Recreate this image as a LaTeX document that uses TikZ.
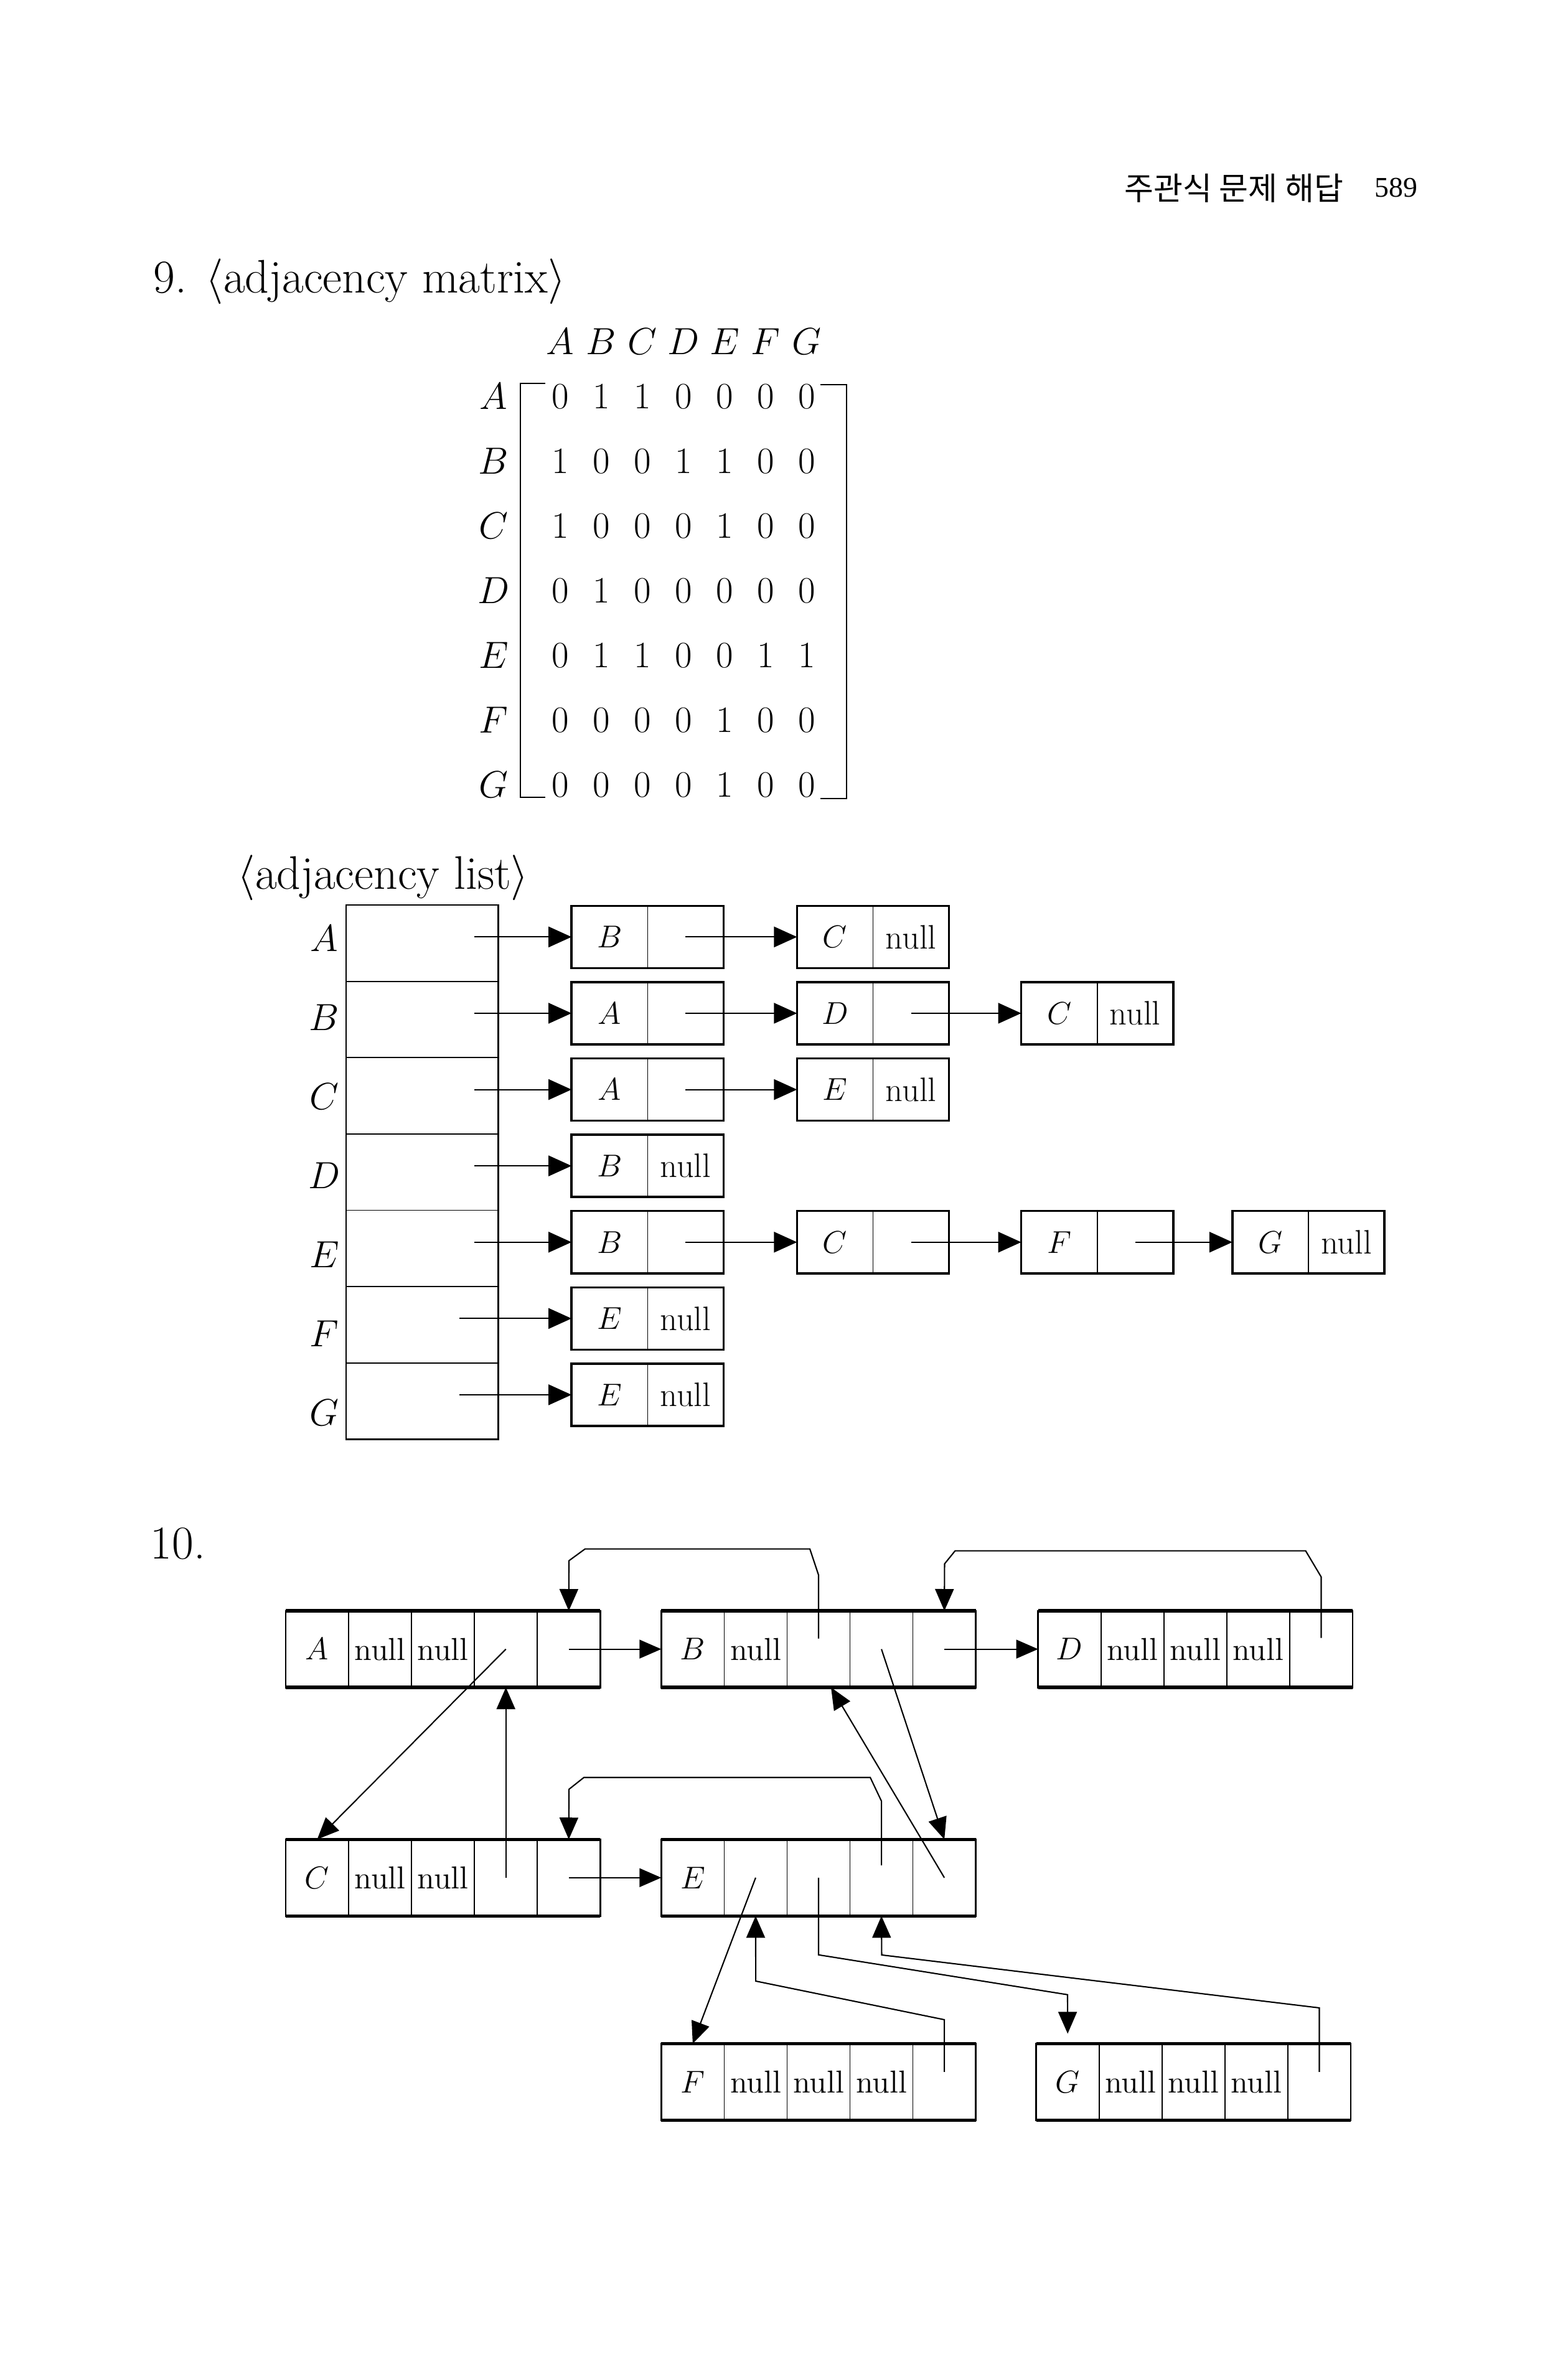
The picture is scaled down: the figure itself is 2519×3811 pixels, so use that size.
\documentclass[tikz,border=0pt]{standalone}
\usepackage{fontspec}
\newfontfamily\korfont{Noto Sans CJK KR}
\newfontfamily\numfont{Liberation Serif}
\usetikzlibrary{arrows.meta,positioning}

\tikzset{
  qtitle/.style={inner sep=0pt, anchor=west, font=\fontsize{21.5}{25}\selectfont},
  lab/.style={inner sep=0pt, font=\fontsize{16.5}{19}\selectfont},
  biglab/.style={inner sep=0pt, font=\fontsize{18}{21}\selectfont},
  dig/.style={inner sep=0pt, font=\fontsize{17}{20}\selectfont},
  brk/.style={line width=0.55pt},
  slot/.style={draw, line width=0.5pt, anchor=north west, minimum width=2.44cm, minimum height=1.226cm, inner sep=0pt, outer sep=0pt},
  tframe/.style={line width=0.8pt},
  lcell/.style={draw, line width=0.45pt, minimum width=1.22cm, minimum height=1cm, inner sep=0pt, outer sep=0pt, font=\fontsize{15.5}{18}\selectfont},
  lframe/.style={line width=1pt},
  lptr/.style={line width=0.6pt, -{Triangle[length=0.37cm,width=0.33cm]}},
  mcell/.style={draw, line width=0.45pt, minimum width=1.01cm, minimum height=1.23cm, inner sep=0pt, outer sep=0pt, font=\fontsize{14.5}{17}\selectfont},
  mframe/.style={line width=0.8pt},
  mtb/.style={line width=1.5pt},
  ptr/.style={line width=0.6pt, -{Triangle[length=0.35cm,width=0.3cm]}}
}

\newcommand\AdjRec[4]{%
  \node[lcell,#2] (#1a) {#3};
  \node[lcell,right=0pt of #1a] (#1b) {#4};
  \draw[lframe] (#1a.north west) rectangle (#1b.south east);}

\newcommand\MultiRec[7]{%
  \node[mcell,#2] (#11) {#3};
  \node[mcell,right=0pt of #11] (#12) {#4};
  \node[mcell,right=0pt of #12] (#13) {#5};
  \node[mcell,right=0pt of #13] (#14) {#6};
  \node[mcell,right=0pt of #14] (#15) {#7};
  \draw[mframe] (#11.north west) rectangle (#15.south east);
  \draw[mtb] (#11.north west) -- (#15.north east) (#11.south west) -- (#15.south east);}

\begin{document}
\begin{tikzpicture}[x=0.01cm,y=-0.01cm]
\useasboundingbox (0,0) rectangle (2519,3811);

\node[anchor=west, inner sep=0pt, font=\korfont\fontsize{14.5}{17}\selectfont] (head) at (1806,302) {주관식 문제 해답};
\node[anchor=west, inner sep=0pt, font=\numfont\fontsize{13}{16}\selectfont] (page) at (2208,302) {589};

\node[qtitle] (q9) at (246,452) {9. $\langle$adjacency matrix$\rangle$};
\foreach \cl [count=\j] in {A,...,G}
  \node[lab] (h\cl) at ({900+66*(\j-1)},549) {$\cl$};
\foreach \rw/\bits [count=\i] in {A/{0,1,1,0,0,0,0},B/{1,0,0,1,1,0,0},C/{1,0,0,0,1,0,0},D/{0,1,0,0,0,0,0},E/{0,1,1,0,0,1,1},F/{0,0,0,0,1,0,0},G/{0,0,0,0,1,0,0}} {
  \node[lab] (r\rw) at (793,{637+104*(\i-1)}) {$\rw$};
  \foreach \b [count=\j] in \bits
    \node[dig] (e\rw\j) at ({900+66*(\j-1)},{637+104*(\i-1)}) {\b};
}
\draw[brk] (876,616) -- (836,616) -- (836,1281) -- (876,1281);
\draw[brk] (1318,618) -- (1360,618) -- (1360,1283) -- (1318,1283);

\node[qtitle] (q9b) at (381,1410) {$\langle$adjacency list$\rangle$};
\foreach \rw [count=\i] in {A,...,G} {
  \node[slot] (t\rw) at (556,{1454+122.6*(\i-1)}) {};
  \node[biglab] (v\rw) at (521,{1508+127*(\i-1)}) {$\rw$};
}
\draw[tframe] (tA.north west) rectangle (tG.south east);

\AdjRec{lA1}{right=1.18cm of tA, yshift=0.1cm}{$B$}{}
\AdjRec{lA2}{right=1.18cm of lA1b}{$C$}{null}
\AdjRec{lB1}{right=1.18cm of tB, yshift=0.1cm}{$A$}{}
\AdjRec{lB2}{right=1.18cm of lB1b}{$D$}{}
\AdjRec{lB3}{right=1.16cm of lB2b}{$C$}{null}
\AdjRec{lC1}{right=1.18cm of tC, yshift=0.1cm}{$A$}{}
\AdjRec{lC2}{right=1.18cm of lC1b}{$E$}{null}
\AdjRec{lD1}{right=1.18cm of tD, yshift=0.1cm}{$B$}{null}
\AdjRec{lE1}{right=1.18cm of tE, yshift=0.1cm}{$B$}{}
\AdjRec{lE2}{right=1.18cm of lE1b}{$C$}{}
\AdjRec{lE3}{right=1.16cm of lE2b}{$F$}{}
\AdjRec{lE4}{right=0.95cm of lE3b}{$G$}{null}
\AdjRec{lF1}{right=1.18cm of tF, yshift=0.1cm}{$E$}{null}
\AdjRec{lG1}{right=1.18cm of tG, yshift=0.1cm}{$E$}{null}

\foreach \rw/\d in {A/1.56,B/1.56,C/1.56,D/1.56,E/1.56,F/1.80,G/1.80}
  \draw[lptr] ([xshift=-\d cm]l\rw1a.west) -- (l\rw1a.west);
\path[lptr]
  (lA1b.center) edge (lA2a.west)
  (lB1b.center) edge (lB2a.west)
  (lB2b.center) edge (lB3a.west)
  (lC1b.center) edge (lC2a.west)
  (lE1b.center) edge (lE2a.west)
  (lE2b.center) edge (lE3a.west)
  (lE3b.center) edge (lE4a.west);

\node[qtitle] (q10) at (241,2480) {10.};
\MultiRec{mA}{anchor=north west, at={(459,2588)}}{$A$}{null}{null}{}{}
\MultiRec{mB}{right=0.98cm of mA5}{$B$}{null}{}{}{}
\MultiRec{mD}{right=1cm of mB5}{$D$}{null}{null}{null}{}
\MultiRec{mC}{below=2.44cm of mA1}{$C$}{null}{null}{}{}
\MultiRec{mE}{right=0.98cm of mC5}{$E$}{}{}{}{}
\MultiRec{mF}{below=2.05cm of mE1}{$F$}{null}{null}{null}{}
\MultiRec{mG}{right=0.97cm of mF5}{$G$}{null}{null}{null}{}

\path[ptr]
  (mA5.center) edge (mB1.west)
  (mB5.center) edge (mD1.west)
  (mC5.center) edge (mE1.west)
  (mA4.center) edge (mC1.north)
  (mC4.center) edge (mA4.south)
  (mB4.center) edge (mE5.north)
  (mE5.center) edge ([xshift=0.2cm]mB3.south)
  (mE2.center) edge (mF1.north);
\draw[ptr] ([yshift=0.17cm]mB3.center) -- ++(0,-102) -- ++(-14,-42) -- ++(-361,0) -- ++(-26,19) -- (mA5.north);
\draw[ptr] ([yshift=0.18cm]mD5.center) -- ++(0,-98) -- ++(-25,-42) -- ++(-563,0) -- ++(-17,21) -- (mB5.north);
\draw[ptr] ([yshift=0.2cm]mE4.center) -- ++(0,-103) -- ++(-18,-38) -- ++(-460,0) -- ++(-24,19) -- (mC5.north);
\draw[ptr] ([yshift=0.16cm]mF5.center) -- ++(0,-84) -- ++(-303,-62) -- (mE2.south);
\draw[ptr] (mE3.center) -- ++(0,124) -- ++(400,64) -- ([yshift=0.16cm]mG1.north);
\draw[ptr] ([yshift=0.16cm]mG5.center) -- ++(0,-103) -- ++(-703,-85) -- (mE4.south);
\end{tikzpicture}
\end{document}
